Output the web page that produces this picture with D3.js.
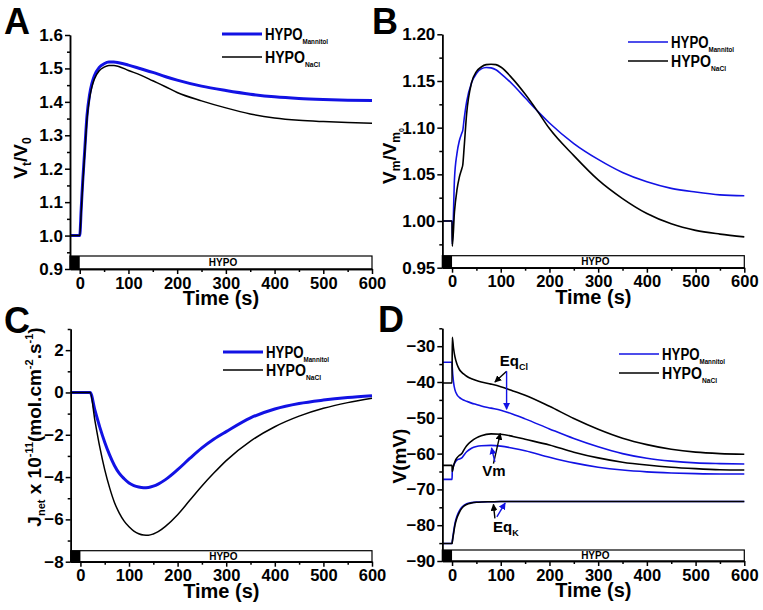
<!DOCTYPE html>
<html><head><meta charset="utf-8">
<script src="https://cdn.jsdelivr.net/npm/d3@7"></script>
<style>body{margin:0;background:#fff}svg{display:block}</style>
</head><body>
<svg id="c" width="763" height="610"></svg>
<script>
// ---------------- DATA ----------------
const timeTicks = [0, 100, 200, 300, 400, 500, 600];
const timeMinor = [50, 150, 250, 350, 450, 550];
const seriesNames = ["HYPO", "Mannitol", "NaCl"];

// Panel A : Vt/V0
const tA = [-20, 0, 3, 6, 10, 15, 20, 25, 30, 40, 50, 60, 70, 80, 100, 125, 150, 175, 200, 250, 300, 350, 400, 450, 500, 550, 600];
const volMannitol = [1.0, 1.0, 1.08, 1.16, 1.25, 1.36, 1.42, 1.455, 1.478, 1.503, 1.514, 1.519, 1.519, 1.517, 1.510, 1.499, 1.488, 1.476, 1.465, 1.447, 1.434, 1.423, 1.415, 1.410, 1.407, 1.405, 1.404];
const volNaCl     = [1.0, 1.0, 1.07, 1.15, 1.24, 1.35, 1.41, 1.445, 1.468, 1.493, 1.504, 1.509, 1.509, 1.506, 1.494, 1.480, 1.463, 1.446, 1.428, 1.403, 1.382, 1.364, 1.352, 1.345, 1.341, 1.338, 1.336];
const ticksA = [0.9, 1.0, 1.1, 1.2, 1.3, 1.4, 1.5, 1.6];
const minorA = [0.95, 1.05, 1.15, 1.25, 1.35, 1.45, 1.55];

// Panel B : Vm/Vm0
const tB = [-20, 0, 0.5, 5, 10, 15, 20, 22, 25, 30, 40, 50, 60, 70, 80, 90, 100, 125, 150, 175, 200, 250, 300, 350, 400, 450, 500, 550, 600];
const vmMannitol = [1.0, 1.0, 0.975, 1.045, 1.072, 1.086, 1.094, 1.097, 1.110, 1.128, 1.148, 1.158, 1.163, 1.1645, 1.164, 1.162, 1.158, 1.146, 1.132, 1.118, 1.105, 1.083, 1.066, 1.052, 1.042, 1.035, 1.031, 1.028, 1.027];
const vmNaCl     = [1.0, 1.0, 0.973, 1.010, 1.033, 1.047, 1.056, 1.060, 1.080, 1.115, 1.148, 1.160, 1.165, 1.1675, 1.168, 1.1675, 1.165, 1.152, 1.136, 1.118, 1.099, 1.070, 1.044, 1.024, 1.008, 0.997, 0.990, 0.986, 0.983];
const ticksB = [0.95, 1.00, 1.05, 1.10, 1.15, 1.20];
const minorB = [0.975, 1.025, 1.075, 1.125, 1.175];

// Panel C : Jnet
const tC = [-20, 0, 20, 30, 40, 50, 60, 70, 80, 90, 100, 110, 120, 130, 140, 150, 160, 175, 200, 225, 250, 275, 300, 350, 400, 450, 500, 550, 600];
const jMannitol = [0, 0, 0, -0.85, -1.65, -2.35, -2.95, -3.45, -3.83, -4.08, -4.28, -4.4, -4.47, -4.5, -4.49, -4.43, -4.33, -4.12, -3.65, -3.12, -2.62, -2.2, -1.85, -1.2, -0.78, -0.52, -0.36, -0.24, -0.15];
const jNaCl     = [0, 0, 0, -1.35, -2.6, -3.65, -4.5, -5.2, -5.7, -6.08, -6.35, -6.55, -6.68, -6.74, -6.75, -6.69, -6.58, -6.33, -5.78, -5.1, -4.42, -3.8, -3.22, -2.3, -1.62, -1.12, -0.75, -0.48, -0.27];
const ticksC = [-8, -6, -4, -2, 0, 2];
const minorC = [-7, -5, -3, -1, 1, 3];

// Panel D : potentials (mV)
const tD = [-20, 0, 0.5, 3, 6, 10, 15, 20, 25, 30, 40, 50, 60, 80, 100, 125, 150, 200, 250, 300, 350, 400, 450, 500, 550, 600];
const eqClMannitol = [-34.5, -34.5, -36, -40, -42.2, -43.5, -44.3, -44.8, -45.1, -45.4, -45.9, -46.3, -46.7, -47.3, -47.9, -49.0, -50.3, -53.1, -55.8, -58.1, -60.0, -61.3, -62.1, -62.6, -62.8, -62.9];
const eqClNaCl     = [-40.3, -40.3, -27.5, -30.5, -33, -35, -36.5, -37.3, -37.9, -38.4, -39.1, -39.6, -40.0, -40.6, -41.3, -42.5, -43.7, -46.8, -50.2, -53.2, -55.7, -57.5, -58.8, -59.6, -60.0, -60.2];
const vmDMannitol  = [-67.2, -67.2, -65, -63.5, -62.5, -61.8, -61.5, -61.2, -60.3, -59.5, -58.5, -58.0, -57.8, -57.7, -57.9, -58.5, -59.2, -61.0, -62.6, -63.8, -64.6, -65.1, -65.4, -65.6, -65.7, -65.7];
const vmDNaCl      = [-63.3, -63.3, -65, -63.5, -62.2, -61.2, -60.5, -60.0, -58.8, -57.8, -56.5, -55.6, -55.0, -54.5, -54.6, -55.2, -56.0, -57.6, -59.6, -61.2, -62.4, -63.2, -63.8, -64.2, -64.5, -64.6];
const eqKMannitol  = [-85.1, -85.1, -84.5, -82, -79.5, -77.5, -76, -75, -74.4, -74, -73.7, -73.55, -73.5, -73.45, -73.4, -73.4, -73.4, -73.4, -73.4, -73.4, -73.4, -73.4, -73.4, -73.4, -73.4, -73.4];
const eqKNaCl      = [-85.1, -85.1, -84.7, -82.5, -80, -78, -76.4, -75.3, -74.6, -74.2, -73.8, -73.6, -73.5, -73.45, -73.4, -73.4, -73.4, -73.4, -73.4, -73.4, -73.4, -73.4, -73.4, -73.4, -73.4, -73.4];
const ticksD = [-90, -80, -70, -60, -50, -40, -30];
const minorD = [-85, -75, -65, -55, -45, -35, -25];

// annotations in D (time s, mV)
const annotD = [
  {label: "Eq", sub: "Cl", t: 98, v: -35.4},
  {label: "Vm", sub: "", t: 62, v: -66.3},
  {label: "Eq", sub: "K", t: 84, v: -81.9}
];
const arrowsD = [
  {c: "k", t0: 112, v0: -37.0, t1: 88, v1: -40.0},
  {c: "b", t0: 112, v0: -37.0, t1: 112, v1: -47.6},
  {c: "k", t0: 85, v0: -62.8, t1: 99, v1: -54.4},
  {c: "b", t0: 88, v0: -62.3, t1: 81, v1: -58.4},
  {c: "k", t0: 88, v0: -78.1, t1: 85, v1: -74.2},
  {c: "b", t0: 92, v0: -77.7, t1: 109, v1: -73.8}
];

// ---------------- DRAWING ----------------
const BLUE = "#1212e4";
const FONT = "'Liberation Sans', Arial, Helvetica, sans-serif";
const svg = d3.select("#c").attr("font-family", FONT);
svg.append("rect").attr("width", 763).attr("height", 610).attr("fill", "#fff");

const defs = svg.append("defs");
[["k", "#000"], ["b", BLUE]].forEach(([id, col]) => {
  defs.append("marker").attr("id", "ah-" + id).attr("viewBox", "0 0 10 10")
    .attr("refX", 9).attr("refY", 5).attr("markerWidth", 7).attr("markerHeight", 7)
    .attr("markerUnits", "userSpaceOnUse").attr("orient", "auto")
    .append("path").attr("d", "M0,0 L10,5 L0,10 Z").attr("fill", col);
});

function rich(g, parts, attrs) {
  const t = g.append("text").attr("font-weight", "bold");
  Object.entries(attrs).forEach(([k, v]) => t.attr(k, v));
  let cur = 0;
  parts.forEach(p => {
    const off = p.off || 0;
    t.append("tspan").attr("dy", off - cur).attr("font-size", p.size).text(p.s);
    cur = off;
  });
  return t;
}

function drawPanel(p) {
  const x = d3.scaleLinear().domain([-20, 600]).range([p.x0, p.x1]);
  const y = d3.scaleLinear().domain(p.yDom).range([p.yBot, p.yTop]);
  const g = svg.append("g");

  // HYPO bar
  const bh = p.barH;
  g.append("rect").attr("x", x(-20)).attr("y", p.yBot - bh).attr("width", x(600) - x(-20)).attr("height", bh)
    .attr("fill", "#fff").attr("stroke", "#000").attr("stroke-width", 1.2);
  g.append("rect").attr("x", x(-20)).attr("y", p.yBot - bh).attr("width", x(0) - x(-20)).attr("height", bh).attr("fill", "#000");
  g.append("text").attr("x", (x(-20) + x(600)) / 2 + 2).attr("y", p.yBot - bh / 2 + 3.5)
    .attr("text-anchor", "middle").attr("font-size", 10).attr("font-weight", "bold").text(seriesNames[0]);

  // series
  const line = d3.line().x(d => x(d[0])).y(d => y(d[1])).curve(d3.curveMonotoneX);
  p.series.forEach(s => {
    g.append("path").datum(s.t.map((t, i) => [t, s.v[i]])).attr("d", line)
      .attr("fill", "none").attr("stroke", s.color).attr("stroke-width", s.w).attr("stroke-linejoin", "round");
  });

  // axes
  const styleAxis = a => {
    a.select(".domain").attr("stroke", "#000").attr("stroke-width", 1.5);
    a.selectAll(".tick line").attr("stroke", "#000").attr("stroke-width", 1.5);
    a.selectAll("text").attr("font-family", FONT).attr("font-weight", "bold").attr("font-size", 17).attr("fill", "#000");
  };
  const ya = g.append("g").attr("transform", `translate(${p.x0},0)`)
    .call(d3.axisLeft(y).tickValues(p.yMajor).tickSize(5).tickSizeOuter(0).tickPadding(2).tickFormat(p.fmt));
  styleAxis(ya);
  const ym = g.append("g").attr("transform", `translate(${p.x0},0)`)
    .call(d3.axisLeft(y).tickValues(p.yMinor).tickSize(3).tickSizeOuter(0).tickFormat(""));
  styleAxis(ym);
  const xa = g.append("g").attr("transform", `translate(0,${p.yBot})`)
    .call(d3.axisBottom(x).tickValues(timeTicks).tickSize(5).tickSizeOuter(0).tickPadding(3).tickFormat(d3.format("d")));
  styleAxis(xa);
  xa.selectAll("text").attr("font-size", 16.5);
  const xm = g.append("g").attr("transform", `translate(0,${p.yBot})`)
    .call(d3.axisBottom(x).tickValues(timeMinor).tickSize(3).tickSizeOuter(0).tickFormat(""));
  styleAxis(xm);

  // x title
  g.append("text").attr("x", (p.x0 + p.x1) / 2).attr("y", p.yBot + 36).attr("text-anchor", "middle")
    .attr("font-size", 20).attr("font-weight", "bold").text("Time (s)");

  // y title
  rich(g, p.ylab, {"text-anchor": "middle", "font-size": 19,
    transform: `translate(${p.ylx},${p.yly}) rotate(-90)`});

  // panel letter
  g.append("text").attr("x", p.lx).attr("y", p.ly).attr("font-size", 36).attr("font-weight", "bold").text(p.id);

  // legend
  p.series.slice(0, 2).forEach((s, i) => {
    const ly = p.leg.y[i];
    g.append("line").attr("x1", p.leg.x).attr("x2", p.leg.x + 40).attr("y1", ly).attr("y2", ly)
      .attr("stroke", s.color).attr("stroke-width", s.w);
    rich(g, [{s: seriesNames[0], size: 16}, {s: seriesNames[i + 1], size: 7.5, off: 4}],
      {x: p.leg.x + 43, y: ly + 6, "textLength": i === 0 ? 63 : 55, "lengthAdjust": "spacingAndGlyphs"});
  });
  return {x, y, g};
}

const k = "#000";
drawPanel({id: "A", x0: 70, x1: 372, yTop: 35, yBot: 269, yDom: [0.9, 1.6], yMajor: ticksA, yMinor: minorA,
  fmt: d3.format(".1f"), barH: 13, lx: 4, ly: 34, ylx: 27, yly: 158,
  ylab: [{s: "V", size: 19}, {s: "t", size: 12, off: 4}, {s: "/V", size: 19, off: 0}, {s: "0", size: 12, off: 4}],
  leg: {x: 222, y: [34, 57]},
  series: [{t: tA, v: volMannitol, color: BLUE, w: 3}, {t: tA, v: volNaCl, color: k, w: 1.5}]});

drawPanel({id: "B", x0: 442.3, x1: 744.3, yTop: 34.3, yBot: 267.7, yDom: [0.95, 1.20], yMajor: ticksB, yMinor: minorB,
  fmt: d3.format(".2f"), barH: 12, lx: 372, ly: 34, ylx: 396, yly: 156,
  ylab: [{s: "V", size: 19}, {s: "m", size: 12, off: 4}, {s: "/V", size: 19, off: 0}, {s: "m", size: 12, off: 4}, {s: "0", size: 7, off: 8}],
  leg: {x: 628, y: [42, 61]},
  series: [{t: tB, v: vmMannitol, color: BLUE, w: 1.6}, {t: tB, v: vmNaCl, color: k, w: 1.6}]});

drawPanel({id: "C", x0: 70.7, x1: 372, yTop: 329, yBot: 561.7, yDom: [-8, 3], yMajor: ticksC, yMinor: minorC,
  fmt: d3.format("d"), barH: 11, lx: 4, ly: 333, ylx: 41, yly: 427,
  ylab: [{s: "J", size: 19}, {s: "net", size: 11, off: 4}, {s: " x 10", size: 19, off: 0}, {s: "-11", size: 11, off: -8},
         {s: "(mol.cm", size: 19, off: 0}, {s: "-2", size: 11, off: -8}, {s: ".s", size: 19, off: 0}, {s: "-1", size: 11, off: -8}, {s: ")", size: 19, off: 0}],
  leg: {x: 223, y: [352, 370]},
  series: [{t: tC, v: jMannitol, color: BLUE, w: 3}, {t: tC, v: jNaCl, color: k, w: 1.5}]});

const D = drawPanel({id: "D", x0: 442.3, x1: 744.3, yTop: 328.3, yBot: 561, yDom: [-90, -25], yMajor: ticksD, yMinor: minorD,
  fmt: d3.format("d"), barH: 11, lx: 378, ly: 332, ylx: 406, yly: 456,
  ylab: [{s: "V(mV)", size: 19}],
  leg: {x: 619, y: [354, 373]},
  series: [{t: tD, v: eqClMannitol, color: BLUE, w: 1.6}, {t: tD, v: eqClNaCl, color: k, w: 1.6},
           {t: tD, v: vmDMannitol, color: BLUE, w: 1.6}, {t: tD, v: vmDNaCl, color: k, w: 1.6},
           {t: tD, v: eqKMannitol, color: BLUE, w: 1.6}, {t: tD, v: eqKNaCl, color: k, w: 1.6}]});

arrowsD.forEach(a => {
  D.g.append("line").attr("x1", D.x(a.t0)).attr("y1", D.y(a.v0)).attr("x2", D.x(a.t1)).attr("y2", D.y(a.v1))
    .attr("stroke", a.c === "k" ? "#000" : BLUE).attr("stroke-width", 1.4)
    .attr("marker-end", `url(#ah-${a.c})`);
});
annotD.forEach(a => {
  const parts = [{s: a.label, size: 15}];
  if (a.sub) parts.push({s: a.sub, size: 9, off: 4});
  rich(D.g, parts, {x: D.x(a.t), y: D.y(a.v)});
});
</script>
</body></html>
